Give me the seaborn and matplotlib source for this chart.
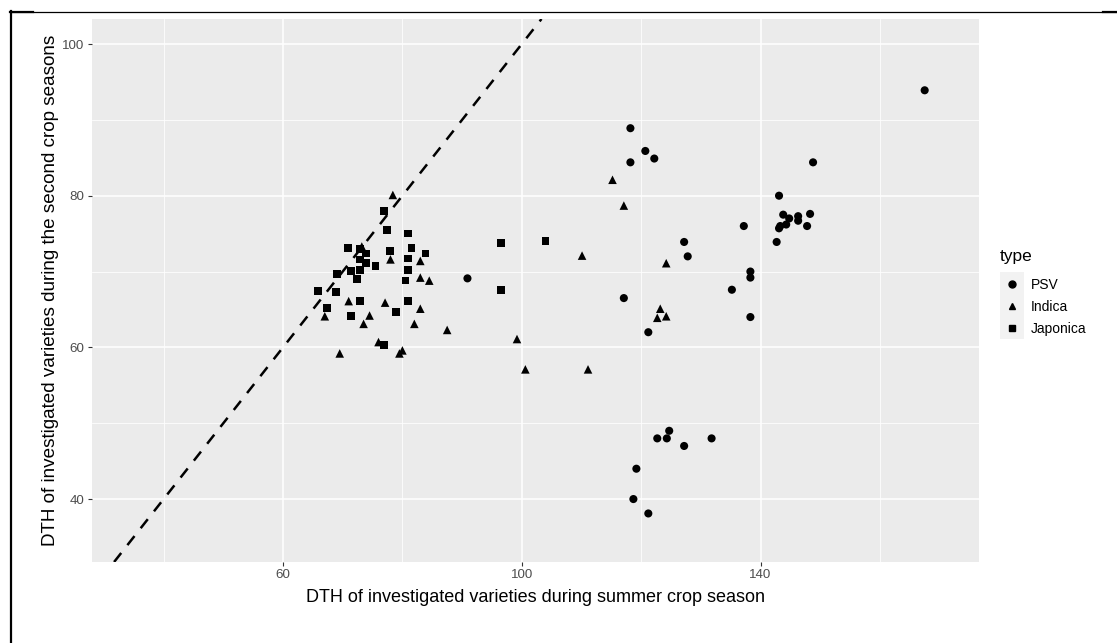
import matplotlib
matplotlib.use("Agg")
import matplotlib.pyplot as plt
import seaborn as sns
import pandas as pd
from matplotlib.lines import Line2D
from matplotlib.patches import Rectangle

# Days to heading (DTH): summer season (x) vs second crop season (y)
psv_summer = [90.9, 117.1, 118.2, 120.7, 122.2, 118.2, 143.1, 137.2, 127.2, 142.7,
              127.8, 138.3, 138.3, 135.2, 138.3, 121.2, 124.7, 122.7, 124.3, 131.8,
              127.2, 119.2, 118.7, 121.2, 148.8, 143.8, 148.3, 146.3, 146.3, 144.8,
              144.3, 143.3, 143.1, 147.8, 167.5]
psv_second = [69.1, 66.5, 88.9, 85.9, 84.9, 84.4, 80.0, 76.0, 73.9, 73.9,
              72.0, 70.0, 69.2, 67.6, 64.0, 62.0, 49.0, 48.0, 48.0, 48.0,
              47.0, 44.0, 40.0, 38.1, 84.4, 77.5, 77.6, 77.3, 76.7, 77.0,
              76.2, 76.0, 75.7, 76.0, 93.9]

indica_summer = [78.4, 73.2, 78.0, 83.0, 83.0, 84.5, 71.0, 77.1, 83.0, 67.0,
                 74.5, 73.5, 82.0, 87.5, 76.0, 80.0, 79.5, 69.5, 110.1, 99.2,
                 100.6, 111.1, 115.2, 117.1, 124.2, 123.2, 122.7, 124.2]
indica_second = [80.1, 73.3, 71.6, 71.4, 69.2, 68.8, 66.1, 65.9, 65.1, 64.1,
                 64.2, 63.1, 63.1, 62.3, 60.7, 59.6, 59.2, 59.2, 72.1, 61.1,
                 57.1, 57.1, 82.1, 78.7, 71.1, 65.1, 63.9, 64.1]

japonica_summer = [76.9, 77.4, 80.9, 70.9, 72.9, 73.9, 77.9, 81.5, 83.9, 80.9,
                   72.9, 73.9, 75.5, 72.9, 71.4, 80.9, 69.0, 72.4, 80.5, 65.9,
                   68.9, 72.9, 80.9, 67.4, 78.9, 71.4, 76.9, 96.5, 104.0, 96.5]
japonica_second = [78.0, 75.5, 75.0, 73.1, 73.0, 72.4, 72.7, 73.1, 72.4, 71.7,
                   71.6, 71.1, 70.7, 70.2, 70.1, 70.2, 69.7, 69.0, 68.8, 67.4,
                   67.3, 66.1, 66.1, 65.2, 64.7, 64.1, 60.3, 73.8, 74.0, 67.6]

types = ["PSV", "Indica", "Japonica"]
x_major = [60, 100, 140]
x_minor = [40, 80, 120, 160]
y_major = [40, 60, 80, 100]
y_minor = [50, 70, 90]

df = pd.DataFrame({
    "summer": psv_summer + indica_summer + japonica_summer,
    "second": psv_second + indica_second + japonica_second,
    "type": ["PSV"] * len(psv_summer) + ["Indica"] * len(indica_summer)
            + ["Japonica"] * len(japonica_summer),
})

W, H = 1117, 643
fig = plt.figure(figsize=(W / 100, H / 100), dpi=100)
fig.patch.set_facecolor("white")
ax = fig.add_axes([92 / W, 1 - 562 / H, (979 - 92) / W, (562 - 19) / H])
ax.set_facecolor("#EBEBEB")
for s in ax.spines.values():
    s.set_visible(False)

markers = {"PSV": "o", "Indica": "^", "Japonica": "s"}
sizes = {"PSV": 34, "Indica": 38, "Japonica": 30}
for t in types:
    sub = df[df["type"] == t]
    sns.scatterplot(data=sub, x="summer", y="second", marker=markers[t],
                    s=sizes[t], color="black", edgecolor="none", linewidth=0,
                    ax=ax, legend=False, zorder=3)

# reference line y = x
ax.axline((40, 40), slope=1, color="black", lw=1.8,
          linestyle=(0, (4.6, 4.0)), zorder=2)

ax.set_xlim(28.0, 176.6)
ax.set_ylim(31.7, 103.3)
ax.set_xticks(x_major)
ax.set_xticks(x_minor, minor=True)
ax.set_yticks(y_major)
ax.set_yticks(y_minor, minor=True)
ax.grid(which="major", color="white", lw=1.1, zorder=0)
ax.grid(which="minor", color="white", lw=0.55, zorder=0)
ax.set_axisbelow(True)
ax.tick_params(which="major", length=2.6, width=0.8, color="#333333",
               labelsize=9.6, labelcolor="#4D4D4D", pad=2.5)
ax.tick_params(which="minor", length=0)
ax.tick_params(axis="y", pad=3)
for lab in ax.get_xticklabels() + ax.get_yticklabels():
    lab.set_fontfamily("Liberation Sans")

ax.set_xlabel("DTH of investigated varieties during summer crop season",
              fontsize=13, family="Liberation Sans")
ax.set_ylabel("DTH of investigated varieties during the second crop seasons",
              fontsize=13.6, family="Liberation Sans")
ax.xaxis.set_label_coords(0.5, -0.05)
ax.yaxis.set_label_coords(-0.037, 0.5)

# legend
handles = [Line2D([], [], marker=markers[t], color="black", linestyle="none",
                  markersize=5.0 if t != "Japonica" else 4.6) for t in types]
leg = ax.legend(handles, types, title="type", loc="upper left",
                bbox_to_anchor=(997 / W, 1 - 246 / H), bbox_transform=fig.transFigure,
                frameon=False, fontsize=10, title_fontsize=12.5,
                handlelength=1.75, handletextpad=0.5, labelspacing=0.59,
                alignment="left", borderaxespad=0, borderpad=0.2)
leg._legend_box.sep = 10
for txt in leg.get_texts():
    txt.set_fontfamily("Liberation Sans")
leg.get_title().set_fontfamily("Liberation Sans")
fig.add_artist(Rectangle((1000 / W, 1 - 339 / H), 24 / W, 67 / H,
                         transform=fig.transFigure, facecolor="#F2F2F2",
                         edgecolor="none", zorder=0))

# outer frame
fig.add_artist(Line2D([10 / W, 1.0], [1 - 11.8 / H] * 2, transform=fig.transFigure,
                      color="black", lw=0.9))
fig.add_artist(Line2D([10 / W, 33 / W], [1 - 11.8 / H] * 2, transform=fig.transFigure,
                      color="black", lw=1.6))
fig.add_artist(Line2D([1103 / W, 1.0], [1 - 12 / H] * 2, transform=fig.transFigure,
                      color="black", lw=1.6))
fig.add_artist(Line2D([11 / W] * 2, [0, 1 - 11 / H], transform=fig.transFigure,
                      color="black", lw=1.6))

fig.savefig("out.png", dpi=100, facecolor="white")
